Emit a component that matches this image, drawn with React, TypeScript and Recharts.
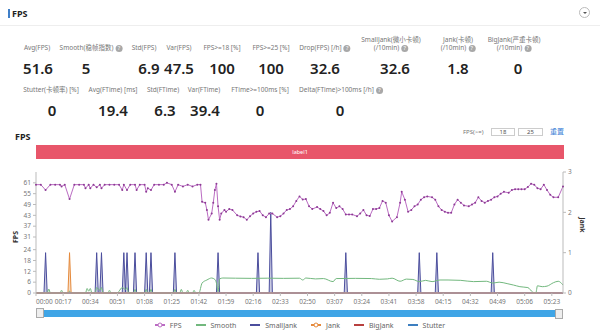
import React from 'react';
import { Area, ComposedChart, Legend, Line, XAxis, YAxis } from 'recharts';

const FONT = '"Noto Sans", "Noto Sans CJK SC", sans-serif';

// seconds since start / value
const fpsTime = [0, 3, 6, 9, 12, 15, 16, 18, 21, 24, 27, 30, 31, 33, 34, 36, 38, 40, 41, 43, 46, 49, 52, 54, 55, 57, 59, 62, 63, 65, 68, 69, 70, 72, 74, 77, 80, 82, 85, 87, 89, 92, 95, 98, 101, 103, 104, 106, 107, 108, 110, 111, 112, 113, 114, 115, 116, 118, 119, 121, 123, 126, 128, 130, 132, 134, 136, 138, 140, 142, 144, 146, 148, 151, 153, 155, 157, 159, 161, 163, 165, 167, 169, 171, 173, 176, 178, 180, 182, 184, 186, 188, 190, 192, 194, 196, 198, 201, 203, 205, 207, 209, 211, 213, 215, 217, 219, 221, 223, 226, 228, 229, 231, 233, 235, 237, 239, 241, 243, 245, 248, 250, 252, 254, 256, 258, 260, 262, 264, 266, 268, 271, 273, 275, 277, 279, 281, 283, 285, 287, 289, 291, 293, 296, 298, 300, 302, 304, 306, 308, 310, 312, 314, 316, 318, 320, 322, 324, 327, 330];
const fpsValue = [60, 60, 57, 60, 60, 60, 59, 60, 52, 60, 60, 60, 58, 60, 58, 60, 58.5, 60, 58, 60, 60, 60, 60, 57, 60, 57, 60, 60, 57, 60, 60, 56, 58, 57, 60, 60, 60, 61, 60, 56, 60, 59, 60, 59, 60, 60, 50.5, 50, 46, 40.5, 44, 50, 57, 60.5, 48, 40.5, 44, 46, 45, 46.5, 46, 43, 42.4, 42, 40.5, 42.5, 44, 45, 45.4, 43, 42, 44, 44, 42, 42.5, 44, 46, 46.5, 48, 51, 53.5, 51.8, 52, 48, 46.5, 47.6, 46.5, 45.4, 43, 44.4, 50, 47, 48, 46.5, 43.5, 43.5, 43.5, 42.5, 44, 46, 43, 42.6, 46.5, 46.5, 47, 51, 50, 43, 39.6, 42, 50, 56, 51.7, 45, 46, 48, 49, 51.7, 53, 53.5, 53, 51.7, 48, 46, 45, 44.4, 44.4, 49, 51.7, 50, 48.5, 48, 49, 50, 53, 51, 50, 51, 51.7, 53, 53.5, 55, 56, 55.5, 57, 57.5, 57.5, 57.5, 57.5, 58.7, 60.5, 60, 58, 57.5, 60, 57, 54.4, 53, 53, 59];

const smoothTime = [0, 7, 8, 9, 15, 16, 17, 20, 21, 22, 31, 32, 33, 34, 35, 37, 38, 40, 41, 42, 45, 46, 47, 51, 52, 54, 56, 57, 58, 61, 62, 63, 68, 69, 70, 71, 72, 73, 86, 87, 88, 90, 91, 92, 94, 95, 96, 98, 99, 100, 102, 104, 107, 110, 112, 113, 114, 115, 117, 125, 135, 145, 155, 165, 167, 169, 175, 180, 186, 188, 200, 210, 215, 220, 223, 228, 232, 236, 240, 244, 248, 253, 258, 266, 274, 282, 286, 290, 295, 299, 303, 308, 311, 313, 314, 317, 320, 324, 327, 330];
const smoothValue = [0, 0, 2.2, 0, 0, 1.5, 0, 0, 1, 0, 0, 2.5, 1, 2.5, 0, 0, 3, 1.5, 3, 0, 0, 1.5, 0, 0, 1, 3, 2, 3, 0, 0, 2, 0, 0, 2, 0, 0, 2, 0, 0, 2, 0, 0, 2, 0, 0, 1.5, 0, 0, 1.5, 0, 0, 5.5, 7.2, 8.3, 7.5, 5.5, 0.7, 7.8, 8.3, 8.2, 8.1, 8.2, 8.1, 8.2, 7.2, 8.3, 7.8, 8, 6.3, 8, 8.1, 8, 7.6, 7.8, 8.2, 6.5, 7.7, 7.5, 6.3, 7, 6.3, 7.2, 7.2, 7, 6.3, 6.5, 5.5, 6, 5.2, 4.4, 3.5, 3, 0.5, 0, 4, 3.5, 3.8, 5.7, 6.5, 4.4];

const smallJankTime = [6, 38, 41, 55, 57, 62, 69, 72, 87, 114, 139, 147, 194, 240, 251, 286];
const smallJankValue = [1, 1, 1, 1, 1, 1, 1, 1, 1, 1, 1, 2, 1, 1, 1, 1];
const jankTime = [21];
const jankValue = [1];
const bigJankTime = [0, 330];
const bigJankValue = [0, 0];
const stutterTime = [0, 330];
const stutterValue = [0, 0];

const timeTicks = [0, 17, 34, 51, 68, 85, 102, 119, 136, 153, 170, 187, 204, 221, 238, 255, 272, 289, 306, 323];
const fpsTicks = [0, 6, 12, 18, 24, 31, 37, 43, 49, 55, 61];
const jankTicks = [0, 1, 2, 3];

const seriesNames = ['FPS', 'Smooth', 'SmallJank', 'Jank', 'BigJank', 'Stutter'];
const seriesColors: Record<string, string> = {
  FPS: '#bb6cc3',
  Smooth: '#72b87e',
  SmallJank: '#4b4e9d',
  Jank: '#e58a3c',
  BigJank: '#b8403f',
  Stutter: '#3d7fc0',
};

const statLabels1 = ['Avg(FPS)', 'Smooth(稳帧指数)', 'Std(FPS)', 'Var(FPS)', 'FPS>=18 [%]', 'FPS>=25 [%]', 'Drop(FPS) [/h]', 'SmallJank(微小卡顿)|(/10min)', 'Jank(卡顿)|(/10min)', 'BigJank(严重卡顿)|(/10min)'];
const statHelp1 = [false, true, false, false, false, false, true, true, true, true];
const statValues1 = ['51.6', '5', '6.9', '47.5', '100', '100', '32.6', '32.6', '1.8', '0'];
const statLabels2 = ['Stutter(卡顿率) [%]', 'Avg(FTime) [ms]', 'Std(FTime)', 'Var(FTime)', 'FTime>=100ms [%]', 'Delta(FTime)>100ms [/h]'];
const statHelp2 = [false, false, false, false, false, true];
const statValues2 = ['0', '19.4', '6.3', '39.4', '0', '0'];

// layout: centre x of each stat column
const labelX1 = [37, 91, 144, 179, 222, 271, 325, 391, 458, 514];
const valueX1 = [38, 86, 149, 179, 222, 271, 325, 395, 458, 518];
const labelX2 = [51, 113, 163, 204, 260, 341];
const valueX2 = [52, 113, 165, 205, 260, 340];

const toRows = (times: number[], values: number[]) =>
  times.map((t, i) => ({ t, v: values[i] }));

const spikeRows = (times: number[], values: number[]) => {
  const rows = [{ t: 0, v: 0 }];
  times.forEach((t, i) => {
    rows.push({ t: t - 1, v: 0 }, { t, v: values[i] }, { t: t + 1, v: 0 });
  });
  rows.push({ t: 330, v: 0 });
  return rows;
};

const fpsData = toRows(fpsTime, fpsValue);
const smoothData = toRows(smoothTime, smoothValue);
const smallJankData = spikeRows(smallJankTime, smallJankValue);
const jankData = spikeRows(jankTime, jankValue);
const bigJankData = toRows(bigJankTime, bigJankValue);
const stutterData = toRows(stutterTime, stutterValue);

const mmss = (s: number) =>
  `${String(Math.floor(s / 60)).padStart(2, '0')}:${String(s % 60).padStart(2, '0')}`;

const TimeTick = (props: any) => {
  const { x, y, payload } = props;
  const first = payload.value === timeTicks[0];
  return (
    <text x={x} y={y} dy={6} textAnchor={first ? 'start' : 'middle'} fontSize={6.5} fill="#777" fontFamily={FONT}>
      {mmss(payload.value)}
    </text>
  );
};

const Help = () => (
  <span
    style={{
      display: 'inline-block',
      width: 7,
      height: 7,
      lineHeight: '7px',
      borderRadius: '50%',
      background: '#a8a8a8',
      color: '#fff',
      fontSize: 5.5,
      textAlign: 'center',
      marginLeft: 2,
      verticalAlign: 'middle',
    }}
  >
    ?
  </span>
);

const StatLabel = ({ text, help, x, y }: { text: string; help: boolean; x: number; y: number }) => {
  const lines = text.split('|');
  return (
    <div
      style={{
        position: 'absolute',
        left: x,
        top: y,
        transform: 'translate(-50%, -50%)',
        whiteSpace: 'nowrap',
        fontSize: 6.5,
        lineHeight: '8px',
        color: '#777',
        textAlign: 'center',
      }}
    >
      {lines.map((l, i) => (
        <div key={i}>
          {l}
          {help && i === lines.length - 1 ? <Help /> : null}
        </div>
      ))}
    </div>
  );
};

const StatValue = ({ text, x, y }: { text: string; x: number; y: number }) => (
  <div
    style={{
      position: 'absolute',
      left: x,
      top: y,
      transform: 'translate(-50%, -50%)',
      fontSize: 15,
      fontWeight: 600,
      color: '#222',
      whiteSpace: 'nowrap',
    }}
  >
    {text}
  </div>
);

const renderLegend = () => (
  <div
    style={{
      height: 14,
      display: 'flex',
      justifyContent: 'center',
      alignItems: 'center',
      fontSize: 7,
      color: '#666',
      fontFamily: FONT,
    }}
  >
    {seriesNames.map((name) => {
      const c = seriesColors[name];
      const marker = name === 'FPS' || name === 'Jank';
      return (
        <span key={name} style={{ display: 'flex', alignItems: 'center', margin: '0 7px' }}>
          <svg width={10} height={6} style={{ marginRight: 5 }}>
            <line x1={0} y1={3} x2={10} y2={3} stroke={c} strokeWidth={2} />
            {marker ? <circle cx={5} cy={3} r={2} fill="#fff" stroke={c} strokeWidth={1} /> : null}
          </svg>
          {name}
        </span>
      );
    })}
  </div>
);

export default function App() {
  return (
    <div
      style={{
        position: 'absolute',
        left: 0,
        top: 0,
        width: 600,
        height: 332,
        background: '#fff',
        fontFamily: FONT,
        overflow: 'hidden',
      }}
    >
      {/* header */}
      <div style={{ position: 'absolute', left: 8, top: 9, width: 2, height: 9, background: '#3f7fc8' }} />
      <div style={{ position: 'absolute', left: 12, top: 7, fontSize: 9, fontWeight: 700, color: '#222' }}>FPS</div>
      <div
        style={{
          position: 'absolute',
          left: 579,
          top: 7,
          width: 11,
          height: 11,
          borderRadius: '50%',
          border: '1px solid #bbb',
          boxSizing: 'border-box',
        }}
      >
        <div
          style={{
            position: 'absolute',
            left: 3,
            top: 4,
            width: 0,
            height: 0,
            borderLeft: '2px solid transparent',
            borderRight: '2px solid transparent',
            borderTop: '2.5px solid #555',
          }}
        />
      </div>
      <div style={{ position: 'absolute', left: 0, top: 25, width: 600, height: 1, background: '#eee' }} />

      {/* stats */}
      {statLabels1.map((l, i) => (
        <StatLabel key={l} text={l} help={statHelp1[i]} x={labelX1[i]} y={l.includes('|') ? 44 : 48} />
      ))}
      {statValues1.map((v, i) => (
        <StatValue key={i} text={v} x={valueX1[i]} y={68} />
      ))}
      {statLabels2.map((l, i) => (
        <StatLabel key={l} text={l} help={statHelp2[i]} x={labelX2[i]} y={90} />
      ))}
      {statValues2.map((v, i) => (
        <StatValue key={i} text={v} x={valueX2[i]} y={110} />
      ))}

      {/* chart toolbar */}
      <div style={{ position: 'absolute', left: 15, top: 130, fontSize: 9, fontWeight: 700, color: '#222' }}>FPS</div>
      <div style={{ position: 'absolute', left: 463, top: 128, fontSize: 6, color: '#777', lineHeight: '8px' }}>FPS(&gt;=)</div>
      <div
        style={{
          position: 'absolute',
          left: 491,
          top: 128,
          width: 24,
          height: 8,
          border: '1px solid #ccc',
          boxSizing: 'border-box',
          fontSize: 6,
          lineHeight: '6px',
          textAlign: 'center',
          color: '#555',
        }}
      >
        18
      </div>
      <div
        style={{
          position: 'absolute',
          left: 518,
          top: 128,
          width: 25,
          height: 8,
          border: '1px solid #ccc',
          boxSizing: 'border-box',
          fontSize: 6,
          lineHeight: '6px',
          textAlign: 'center',
          color: '#555',
        }}
      >
        25
      </div>
      <div style={{ position: 'absolute', left: 550, top: 127, fontSize: 7, color: '#3b7fd6', lineHeight: '9px' }}>重置</div>
      <div
        style={{
          position: 'absolute',
          left: 36,
          top: 145,
          width: 528,
          height: 14,
          background: '#e8566a',
          color: '#fff',
          fontSize: 5.5,
          lineHeight: '14px',
          textAlign: 'center',
        }}
      >
        label1
      </div>

      {/* axis titles */}
      <div
        style={{
          position: 'absolute',
          left: 15,
          top: 237,
          transform: 'translate(-50%, -50%) rotate(-90deg)',
          fontSize: 7,
          fontWeight: 700,
          color: '#333',
        }}
      >
        FPS
      </div>
      <div
        style={{
          position: 'absolute',
          left: 582,
          top: 225,
          transform: 'translate(-50%, -50%) rotate(90deg)',
          fontSize: 7,
          fontWeight: 700,
          color: '#333',
        }}
      >
        Jank
      </div>

      <div style={{ position: 'absolute', left: 0, top: 165 }}>
        <ComposedChart width={600} height={167} margin={{ top: 7, right: 0, bottom: 0, left: 0 }}>
          <XAxis
            dataKey="t"
            type="number"
            domain={[0, 330]}
            ticks={timeTicks}
            interval={0}
            tick={<TimeTick />}
            height={25}
            tickSize={3}
            stroke="#bbb"
          />
          <YAxis
            yAxisId="fps"
            domain={[0, 67]}
            ticks={fpsTicks}
            interval={0}
            width={36}
            tickSize={3}
            stroke="#bbb"
            tick={{ fontSize: 6.5, fill: '#777', fontFamily: FONT }}
          />
          <YAxis
            yAxisId="jank"
            orientation="right"
            domain={[0, 3]}
            ticks={jankTicks}
            interval={0}
            width={37}
            tickSize={3}
            stroke="#bbb"
            tick={{ fontSize: 6.5, fill: '#777', fontFamily: FONT }}
          />
          <Legend verticalAlign="bottom" height={14} content={renderLegend} />
          <Line
            yAxisId="fps"
            name="Stutter"
            data={stutterData}
            dataKey="v"
            type="linear"
            stroke={seriesColors.Stutter}
            strokeWidth={1}
            dot={false}
            activeDot={false}
            legendType="plainline"
            isAnimationActive={false}
          />
          <Line
            yAxisId="fps"
            name="Smooth"
            data={smoothData}
            dataKey="v"
            type="monotone"
            stroke={seriesColors.Smooth}
            strokeWidth={1}
            dot={false}
            activeDot={false}
            legendType="plainline"
            isAnimationActive={false}
          />
          <Area
            yAxisId="jank"
            name="SmallJank"
            data={smallJankData}
            dataKey="v"
            type="linear"
            stroke={seriesColors.SmallJank}
            fill={seriesColors.SmallJank}
            fillOpacity={0.3}
            strokeWidth={1}
            dot={false}
            activeDot={false}
            legendType="plainline"
            isAnimationActive={false}
          />
          <Area
            yAxisId="jank"
            name="Jank"
            data={jankData}
            dataKey="v"
            type="linear"
            stroke={seriesColors.Jank}
            fill={seriesColors.Jank}
            fillOpacity={0.3}
            strokeWidth={1}
            dot={false}
            activeDot={false}
            legendType="line"
            isAnimationActive={false}
          />
          <Line
            yAxisId="jank"
            name="BigJank"
            data={bigJankData}
            dataKey="v"
            type="linear"
            stroke={seriesColors.BigJank}
            strokeWidth={1}
            dot={false}
            activeDot={false}
            legendType="plainline"
            isAnimationActive={false}
          />
          <Line
            yAxisId="fps"
            name="FPS"
            data={fpsData}
            dataKey="v"
            type="linear"
            stroke={seriesColors.FPS}
            strokeWidth={1}
            dot={{ r: 1, fill: '#8c3a94', stroke: 'none' }}
            activeDot={false}
            legendType="line"
            isAnimationActive={false}
          />
        </ComposedChart>
      </div>

      {/* data zoom slider */}
      <div style={{ position: 'absolute', left: 40, top: 310, width: 520, height: 7, background: '#3fa5e6' }} />
      <div
        style={{
          position: 'absolute',
          left: 36,
          top: 308,
          width: 8,
          height: 10,
          background: '#eee',
          border: '1px solid #aaa',
          boxSizing: 'border-box',
        }}
      />
      <div
        style={{
          position: 'absolute',
          left: 555,
          top: 309,
          width: 8,
          height: 10,
          background: '#eee',
          border: '1px solid #aaa',
          boxSizing: 'border-box',
        }}
      />
    </div>
  );
}
